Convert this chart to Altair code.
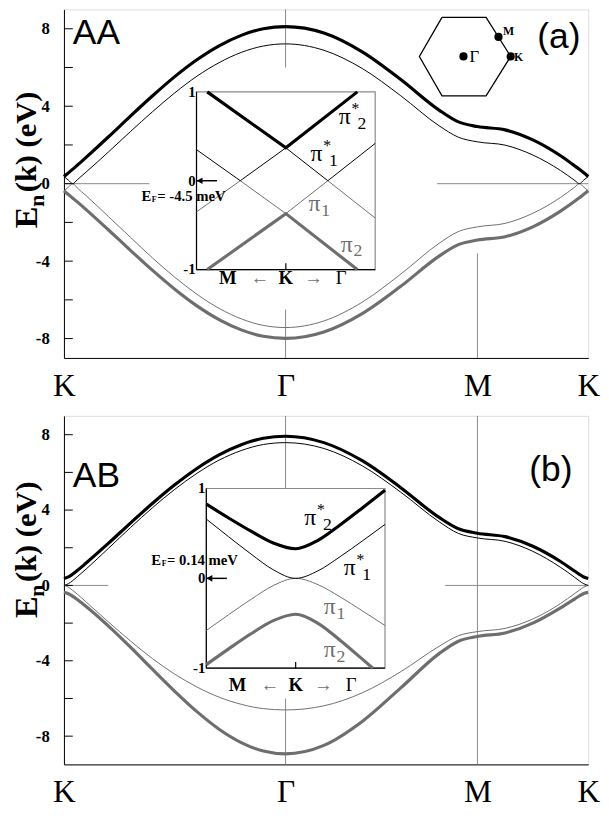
import altair as alt
import pandas as pd

# ---------------- data ----------------
# path coordinate along K -> Gamma -> M -> K  (K=0, Gamma=1, M=1.866, K=2.366)
S = [0, 0.02, 0.04, 0.06, 0.1, 0.2, 0.3, 0.4, 0.5, 0.6, 0.7, 0.8, 0.9, 1.0,
     1.173, 1.346, 1.52, 1.693, 1.78, 1.866, 1.991, 2.116, 2.241, 2.306, 2.326, 2.346, 2.366]
PATH_TICKS = [0, 1.0, 1.866, 2.366]
PATH_NAMES = ["K", "Γ", "M", "K"]

# (a) AA stacking, energies in eV
AA_PI2S = [0.37, 0.56, 0.75, 0.95, 1.36, 2.41, 3.49, 4.54, 5.53, 6.40, 7.12, 7.66, 8.00, 8.11,
           7.78, 6.81, 5.38, 3.80, 3.19, 2.95, 2.78, 2.26, 1.44, 0.91, 0.74, 0.56, 0.37]
AA_PI1S = [0.37, 0.18, 0.0, 0.20, 0.60, 1.63, 2.69, 3.72, 4.69, 5.55, 6.25, 6.78, 7.11, 7.22,
           6.89, 5.95, 4.54, 2.99, 2.40, 2.16, 1.99, 1.48, 0.68, 0.16, 0.0, 0.19, 0.37]
AA_PI1 = [-0.37, -0.18, 0.0, -0.22, -0.62, -1.69, -2.77, -3.84, -4.83, -5.71, -6.44, -6.98, -7.32, -7.43,
          -7.09, -6.12, -4.67, -3.08, -2.47, -2.23, -2.05, -1.53, -0.71, -0.17, 0.0, -0.18, -0.37]
AA_PI2 = [-0.37, -0.56, -0.75, -0.94, -1.34, -2.38, -3.44, -4.48, -5.45, -6.31, -7.02, -7.55, -7.88, -7.99,
          -7.66, -6.71, -5.30, -3.74, -3.15, -2.91, -2.74, -2.23, -1.42, -0.90, -0.73, -0.55, -0.37]

# (b) AB stacking
AB_PI2S = [0.37, 0.45, 0.61, 0.79, 1.19, 2.23, 3.31, 4.36, 5.34, 6.21, 6.93, 7.47, 7.81, 7.92,
           7.58, 6.62, 5.19, 3.61, 3.01, 2.77, 2.59, 2.08, 1.27, 0.75, 0.59, 0.45, 0.37]
AB_PI1S = [0.0, 0.09, 0.26, 0.46, 0.87, 1.96, 3.07, 4.13, 5.10, 5.95, 6.65, 7.16, 7.48, 7.58,
           7.27, 6.35, 4.95, 3.38, 2.76, 2.52, 2.34, 1.81, 0.96, 0.42, 0.24, 0.09, 0.0]
AB_PI1 = [0.0, -0.09, -0.27, -0.46, -0.88, -1.93, -2.95, -3.89, -4.71, -5.39, -5.93, -6.31, -6.54, -6.61,
          -6.39, -5.70, -4.58, -3.23, -2.67, -2.45, -2.28, -1.78, -0.96, -0.42, -0.25, -0.09, 0.0]
AB_PI2 = [-0.37, -0.44, -0.58, -0.75, -1.12, -2.15, -3.28, -4.46, -5.62, -6.70, -7.63, -8.34, -8.79, -8.94,
          -8.49, -7.22, -5.44, -3.62, -2.96, -2.71, -2.52, -2.00, -1.19, -0.71, -0.56, -0.43, -0.37]

# insets: k measured from K (M side negative, Gamma side positive), energies in eV
INA_K_OUT = [-0.88, 0.0, 0.80]
INA_PI2S = [1.0, 0.37, 1.0]
INA_PI2 = [-1.0, -0.37, -1.0]
INA_K_IN = [-1.0, -0.51, 0.0, 0.47, 1.0]
INA_PI1S = [0.35, 0.0, 0.37, 0.0, 0.42]
INA_PI1 = [-0.35, 0.0, -0.37, 0.0, -0.42]

INB_K = [-1.0, -0.75, -0.5, -0.25, 0.0, 0.25, 0.5, 0.75, 1.0]
INB_PI2S = [0.826, 0.672, 0.525, 0.394, 0.33, 0.424, 0.597, 0.787, 0.982]
INB_PI1S = [0.66, 0.463, 0.271, 0.095, 0.0, 0.084, 0.243, 0.419, 0.60]
INB_PI1 = [-0.58, -0.404, -0.234, -0.08, 0.0, -0.07, -0.208, -0.364, -0.525]
INB_K2 = [-1.0, -0.75, -0.5, -0.25, 0.0, 0.25, 0.5, 0.75, 0.864]
INB_PI2 = [-0.96, -0.785, -0.617, -0.471, -0.40, -0.50, -0.691, -0.902, -1.0]

Y_TICKS = [-8, -6, -4, -2, 0, 2, 4, 6, 8]
Y_LABELS = [-8, -4, 0, 4, 8]
INSET_TICKS = [-1, 0, 1]

# Brillouin-zone sketch (panel a, in plot coordinates)
HEX_S = [1.706, 1.905, 2.016, 1.905, 1.706, 1.604, 1.706]
HEX_E = [8.59, 8.59, 6.57, 4.54, 4.54, 6.57, 8.59]
BZ_S = [1.803, 1.961, 2.016]
BZ_E = [6.57, 7.58, 6.57]

# ---------------- style ----------------
SERIF = "Liberation Serif"
SANS = "Liberation Sans"
BLACK = "#000000"
GRAY = "#6e6e6e"
LGRAY = "#8a8a8a"
W = 534
HA, HB = 355, 355
XS = alt.Scale(domain=[0, 2.366], nice=False, zero=False)


def yscale(dom):
    return alt.Scale(domain=dom, nice=False, zero=False)


def one(**cols):
    return pd.DataFrame({k: [v] for k, v in cols.items()})


def band(evals, color, width, ys, with_axes=False):
    df = pd.DataFrame({"s": S, "E": evals})
    if with_axes:
        xa = alt.Axis(values=PATH_TICKS,
                      labelExpr="datum.value < 0.5 ? 'K' : datum.value < 1.5 ? 'Γ' : datum.value < 2.1 ? 'M' : 'K'",
                      labelFont=SERIF, labelFontSize=32, labelColor=BLACK, labelPadding=13,
                      ticks=False, grid=False, domain=True, domainColor=BLACK, title=None,
                      labelFlush=False, labelOverlap=False, labelBound=False)
        ya = alt.Axis(values=Y_LABELS, labelExpr="'' + datum.value", labelFont=SERIF,
                      labelFontWeight="bold", labelFontSize=17, labelColor=BLACK, labelPadding=15,
                      ticks=False, grid=False, domain=True, domainColor=BLACK, title=None)
    else:
        xa = None
        ya = None
    return alt.Chart(df).mark_line(color=color, strokeWidth=width, interpolate="monotone").encode(
        x=alt.X("s:Q", scale=XS, axis=xa), y=alt.Y("E:Q", scale=ys, axis=ya))


def segments(rows, ys):
    df = pd.DataFrame(rows, columns=["x1", "x2", "y1", "y2"])
    return alt.Chart(df).mark_rule(color=LGRAY, strokeWidth=1).encode(
        x=alt.X("x1:Q", scale=XS, axis=None), x2="x2:Q",
        y=alt.Y("y1:Q", scale=ys, axis=None), y2="y2:Q")


def ticks(ys):
    return alt.Chart(pd.DataFrame({"t": Y_TICKS})).mark_rule(color=BLACK, strokeWidth=1).encode(
        x=alt.value(0), x2=alt.value(9), y=alt.Y("t:Q", scale=ys, axis=None))


def ytitle(e_y, n_y, r_y):
    base = dict(angle=270, font=SERIF, fontWeight="bold", color=BLACK, align="center", baseline="middle")
    e = alt.Chart(one(t="E")).mark_text(fontSize=33, **base).encode(
        text="t:N", x=alt.value(-37), y=alt.value(e_y))
    n = alt.Chart(one(t="n")).mark_text(fontSize=22, **base).encode(
        text="t:N", x=alt.value(-27), y=alt.value(n_y))
    rest = alt.Chart(one(t="(k) (eV)")).mark_text(fontSize=31, **base).encode(
        text="t:N", x=alt.value(-37), y=alt.value(r_y))
    return [e, n, rest]


def txt(s, E, t, ys, xs=XS, **kw):
    return alt.Chart(one(s=s, E=E, t=t)).mark_text(**kw).encode(
        x=alt.X("s:Q", scale=xs, axis=None), y=alt.Y("E:Q", scale=ys, axis=None), text="t:N")


def iline(ks, es, color, width, ix, iy, interp):
    df = pd.DataFrame({"k": ks, "E": es})
    return alt.Chart(df).mark_line(color=color, strokeWidth=width, interpolate=interp).encode(
        x=alt.X("k:Q", scale=ix, axis=None), y=alt.Y("E:Q", scale=iy, axis=None))


def inset(ix, iy, lines, pis, ef_text, ef_E, lab_dy):
    layers = []
    layers.append(alt.Chart(one(a=-1, b=1, c=-1, d=1)).mark_rect(
        fill="white", stroke=LGRAY, strokeWidth=1.2).encode(
        x=alt.X("a:Q", scale=ix, axis=None), x2="b:Q",
        y=alt.Y("c:Q", scale=iy, axis=None), y2="d:Q"))
    # left and bottom frame in black, K tick
    layers.append(alt.Chart(pd.DataFrame({"x1": [-1, -1, 0], "x2": [-1, 1, 0],
                                          "y1": [-1, -1, -1], "y2": [1, -1, -0.93]})).mark_rule(
        color=BLACK, strokeWidth=1.2).encode(
        x=alt.X("x1:Q", scale=ix, axis=None), x2="x2:Q",
        y=alt.Y("y1:Q", scale=iy, axis=None), y2="y2:Q"))
    for ks, es, color, width, interp in lines:
        layers.append(iline(ks, es, color, width, ix, iy, interp))
    # tick labels
    layers.append(alt.Chart(pd.DataFrame({"k": [-1] * 3, "E": INSET_TICKS,
                                          "t": [str(v) for v in INSET_TICKS]})).mark_text(
        font=SERIF, fontWeight="bold", fontSize=15, align="right", baseline="middle", dx=-1, color=BLACK).encode(
        x=alt.X("k:Q", scale=ix, axis=None), y=alt.Y("E:Q", scale=iy, axis=None), text="t:N"))
    # Fermi arrow
    layers.append(alt.Chart(one(a=-1, b=-0.77, c=0)).mark_rule(color=BLACK, strokeWidth=1.5).encode(
        x=alt.X("a:Q", scale=ix, axis=None), x2="b:Q", y=alt.Y("c:Q", scale=iy, axis=None)))
    layers.append(alt.Chart(one(a=-0.965, c=0)).mark_point(
        shape="triangle-left", filled=True, color=BLACK, size=45, opacity=1).encode(
        x=alt.X("a:Q", scale=ix, axis=None), y=alt.Y("c:Q", scale=iy, axis=None)))
    # E_F label
    layers.append(txt(-1, ef_E, "E", iy, ix, font=SERIF, fontWeight="bold", fontSize=15,
                      align="left", baseline="middle", dx=-56, color=BLACK))
    layers.append(txt(-1, ef_E, "F", iy, ix, font=SERIF, fontWeight="bold", fontSize=8,
                      align="left", baseline="middle", dx=-45.5, dy=4, color=BLACK))
    layers.append(txt(-1, ef_E, ef_text, iy, ix, font=SERIF, fontWeight="bold", fontSize=15,
                      align="left", baseline="middle", dx=-40, color=BLACK))
    # pi labels
    for k, E, sup, sub, color in pis:
        layers.append(txt(k, E, "π", iy, ix, font=SERIF, fontSize=24, align="left",
                          baseline="middle", color=color))
        if sup:
            layers.append(txt(k, E, "*", iy, ix, font=SERIF, fontSize=16, align="left",
                              baseline="middle", dx=13, dy=-8, color=color))
            layers.append(txt(k, E, sub, iy, ix, font=SERIF, fontSize=18, align="left",
                              baseline="middle", dx=19, dy=7, color=color))
        else:
            layers.append(txt(k, E, sub, iy, ix, font=SERIF, fontSize=18, align="left",
                              baseline="middle", dx=13, dy=7, color=color))
    # M <- K -> Gamma
    for k, t, bold, color in [(-0.65, "M", True, BLACK), (-0.29, "←", False, GRAY),
                              (0.0, "K", True, BLACK), (0.31, "→", False, GRAY),
                              (0.62, "Γ", False, BLACK)]:
        layers.append(txt(k, -1, t, iy, ix, font=SERIF, fontWeight="bold" if bold else "normal",
                          fontSize=19, align="center", baseline="middle", dy=lab_dy, color=color))
    return layers


# ---------------- panel (a) ----------------
ya = yscale([-9, 9])
ixa = alt.Scale(domain=[-1, 1], range=[135, 317], nice=False, zero=False)
iya = alt.Scale(domain=[-1, 1], range=[265, 84], nice=False, zero=False)

layers_a = [
    segments([[0, 0.385, 0, 0], [1.684, 2.366, 0, 0], [1.0, 1.0, 9, 6.0],
              [1.0, 1.0, -6.5, -9], [1.866, 1.866, -3.6, -9]], ya),
    ticks(ya),
    band(AA_PI1, GRAY, 1, ya),
    band(AA_PI1S, BLACK, 1, ya),
    band(AA_PI2, GRAY, 3.2, ya),
    band(AA_PI2S, BLACK, 3.2, ya, with_axes=True),
    alt.Chart(pd.DataFrame({"s": HEX_S, "E": HEX_E, "i": list(range(len(HEX_S)))})).mark_line(
        color=BLACK, strokeWidth=1.3).encode(
        x=alt.X("s:Q", scale=XS, axis=None), y=alt.Y("E:Q", scale=ya, axis=None), order="i:Q"),
    alt.Chart(pd.DataFrame({"s": BZ_S, "E": BZ_E})).mark_point(
        filled=True, color=BLACK, size=70, opacity=1).encode(
        x=alt.X("s:Q", scale=XS, axis=None), y=alt.Y("E:Q", scale=ya, axis=None)),
    txt(1.830, 6.52, "Γ", ya, font=SERIF, fontSize=17, align="left", baseline="middle", color=BLACK),
    txt(1.981, 7.9, "M", ya, font=SERIF, fontWeight="bold", fontSize=12, align="left", baseline="middle", color=BLACK),
    txt(2.031, 6.52, "K", ya, font=SERIF, fontWeight="bold", fontSize=12, align="left", baseline="middle", color=BLACK),
    txt(0.04, 7.75, "AA", ya, font=SANS, fontSize=36, align="left", baseline="middle", color=BLACK),
    txt(2.136, 7.55, "(a)", ya, font=SANS, fontSize=36, align="left", baseline="middle", color=BLACK),
] + ytitle(212, 195, 135) + inset(
    ixa, iya,
    [(INA_K_IN, INA_PI1, GRAY, 1, "linear"), (INA_K_IN, INA_PI1S, BLACK, 1, "linear"),
     (INA_K_OUT, INA_PI2, GRAY, 3.2, "linear"), (INA_K_OUT, INA_PI2S, BLACK, 3.2, "linear")],
    [(0.593, 0.72, True, "2", BLACK), (0.275, 0.30, True, "1", BLACK),
     (0.253, -0.26, False, "1", GRAY), (0.615, -0.72, False, "2", GRAY)],
    "= -4.5 meV", -0.17, 9)

panel_a = alt.layer(*layers_a).resolve_scale(x="independent", y="independent").properties(width=W, height=HA)

# ---------------- panel (b) ----------------
yb = yscale([-9.5, 9])
ixb = alt.Scale(domain=[-1, 1], range=[145, 327], nice=False, zero=False)
iyb = alt.Scale(domain=[-1, 1], range=[257, 74], nice=False, zero=False)

layers_b = [
    segments([[0, 0.2, 0, 0], [1.72, 2.366, 0, 0], [1.0, 1.0, 9, 5.1],
              [1.0, 1.0, -6.0, -9.5], [1.866, 1.866, 9, -9.5]], yb),
    ticks(yb),
    band(AB_PI1, GRAY, 1, yb),
    band(AB_PI1S, BLACK, 1, yb),
    band(AB_PI2, GRAY, 3.2, yb),
    band(AB_PI2S, BLACK, 3.2, yb, with_axes=True),
    txt(0.04, 5.8, "AB", yb, font=SANS, fontSize=36, align="left", baseline="middle", color=BLACK),
    txt(2.10, 6.1, "(b)", yb, font=SANS, fontSize=36, align="left", baseline="middle", color=BLACK),
] + ytitle(195, 178, 118) + inset(
    ixb, iyb,
    [(INB_K, INB_PI1, GRAY, 1, "monotone"), (INB_K, INB_PI1S, BLACK, 1, "monotone"),
     (INB_K2, INB_PI2, GRAY, 3.2, "monotone"), (INB_K, INB_PI2S, BLACK, 3.2, "monotone")],
    [(0.097, 0.675, True, "2", BLACK), (0.537, 0.117, True, "1", BLACK),
     (0.314, -0.32, False, "1", GRAY), (0.314, -0.80, False, "2", GRAY)],
    "= 0.14 meV", 0.204, 17)

panel_b = alt.layer(*layers_b).resolve_scale(x="independent", y="independent").properties(width=W, height=HB)

chart = alt.vconcat(panel_a, panel_b, spacing=59, bounds="flush").properties(
    padding={"left": 3, "top": -7, "right": 0, "bottom": -6}
).configure_view(stroke=LGRAY, strokeWidth=1.2).configure(background="white")

chart.save("out.html", embed_options={"renderer": "svg", "actions": False})
